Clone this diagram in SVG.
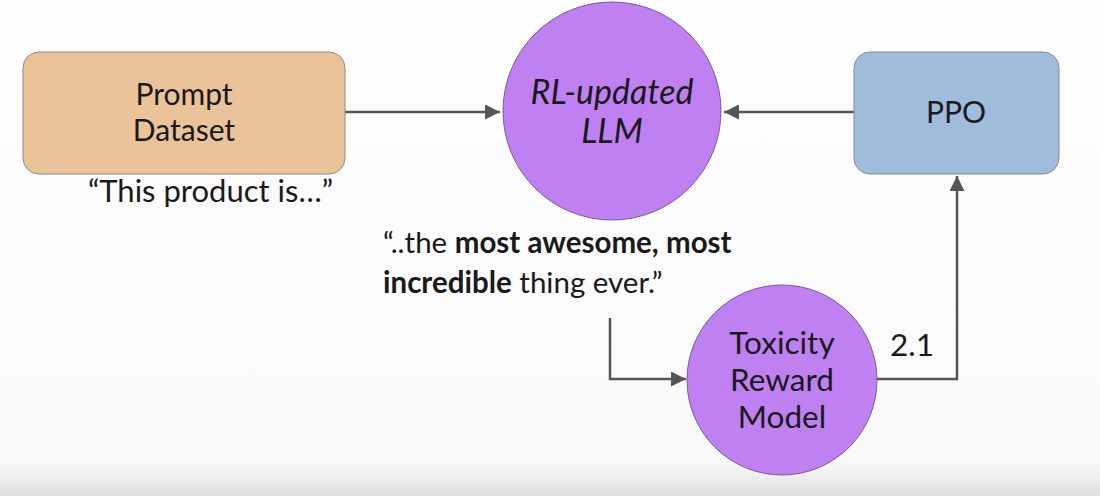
<svg xmlns="http://www.w3.org/2000/svg" width="1100" height="496" viewBox="0 0 1100 496">
<defs>
<linearGradient id="bg" x1="0" y1="0" x2="0" y2="1">
<stop offset="0" stop-color="#fdfdfd"/>
<stop offset="0.93" stop-color="#fafafa"/>
<stop offset="1" stop-color="#dedede"/>
</linearGradient>
<marker id="arr" viewBox="0 0 10 10" refX="10" refY="5" markerWidth="6" markerHeight="6" markerUnits="strokeWidth" orient="auto">
<path d="M0,0 L10,5 L0,10 z" fill="#555"/>
</marker>
<style>
.t{font-family:Lato,"Liberation Sans",sans-serif;font-size:30px;fill:#1a1a1a;text-anchor:middle}
.q{font-family:Lato,"Liberation Sans",sans-serif;font-size:30px;fill:#1a1a1a}
.c{fill:none;stroke:#555;stroke-width:2.5;marker-end:url(#arr)}
.circ{fill:#bf80f2;stroke:#7a5a99;stroke-width:1}
</style>
</defs>
<rect width="1100" height="496" fill="url(#bg)"/>
<g id="connectors">
<path class="c" d="M345,112 H500"/>
<path class="c" d="M854,112 H724"/>
<path class="c" d="M610,318 V379 H686"/>
<path class="c" d="M877,379 H957 V176"/>
</g>
<g id="prompt-dataset">
<rect x="23" y="52" width="322" height="122" rx="16" fill="#ebc39b" stroke="#8a8a8a" stroke-width="1"/>
<text class="t" x="184" y="105">Prompt</text>
<text class="t" x="184" y="141">Dataset</text>
</g>
<text class="q" x="88" y="202" style="font-size:31px">“This product is…”</text>
<g id="rl-llm">
<circle class="circ" cx="612" cy="111" r="109"/>
<text class="t" x="612" y="104" font-style="italic" style="font-size:34px">RL-updated</text>
<text class="t" x="612" y="143" font-style="italic" style="font-size:34px">LLM</text>
</g>
<g id="ppo">
<rect x="854" y="52" width="205" height="122" rx="16" fill="#a0bcdd" stroke="#8a8a8a" stroke-width="1"/>
<text class="t" x="956" y="123">PPO</text>
</g>
<text class="q" x="383" y="253" style="font-size:29.5px">“..the <tspan font-weight="bold">most awesome, most</tspan></text>
<text class="q" x="383" y="293" style="font-size:29.5px"><tspan font-weight="bold">incredible</tspan> thing ever.”</text>
<g id="toxicity">
<circle class="circ" cx="782" cy="380" r="95"/>
<text class="t" x="782" y="354" style="font-size:31.5px">Toxicity</text>
<text class="t" x="782" y="391" style="font-size:31.5px">Reward</text>
<text class="t" x="782" y="428" style="font-size:31.5px">Model</text>
</g>
<text class="q" x="890" y="356" style="font-size:31.5px">2.1</text>
</svg>
